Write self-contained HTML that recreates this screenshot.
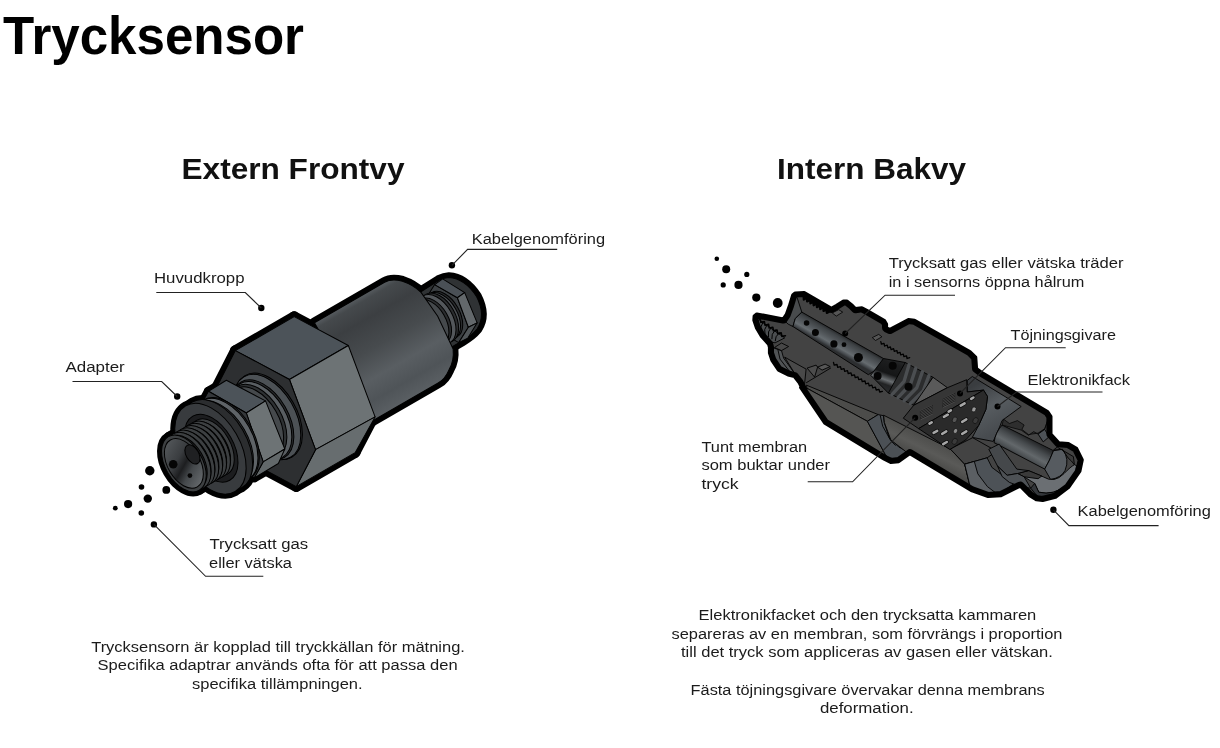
<!DOCTYPE html>
<html lang="sv">
<head>
<meta charset="utf-8">
<title>Trycksensor</title>
<style>
html,body{margin:0;padding:0;background:#fff;}
body{width:1220px;height:748px;position:relative;overflow:hidden;font-family:"Liberation Sans",sans-serif;color:#111;}
svg{position:absolute;left:0;top:0;font-family:"Liberation Sans",sans-serif;}
.lb text{font-size:15.4px;fill:#1b1b1b;}
.h1{font-size:54px;font-weight:bold;fill:#000;}
.h2{font-size:30px;font-weight:bold;fill:#111;}
</style>
</head>
<body>
<svg width="1220" height="748" viewBox="0 0 1220 748">
<defs>
<linearGradient id="cylg" gradientUnits="userSpaceOnUse" x1="0" y1="-56" x2="0" y2="58">
<stop offset="0" stop-color="#565b5f"/><stop offset="0.05" stop-color="#45494c"/><stop offset="0.2" stop-color="#3c3f42"/><stop offset="0.45" stop-color="#474b4e"/><stop offset="0.68" stop-color="#595e62"/><stop offset="0.85" stop-color="#4f5458"/><stop offset="1" stop-color="#5a5f63"/>
</linearGradient>
<linearGradient id="boreg" gradientUnits="userSpaceOnUse" x1="-20" y1="-25" x2="10" y2="25">
<stop offset="0" stop-color="#5b5f62"/><stop offset="0.4" stop-color="#3a3d40"/><stop offset="0.55" stop-color="#1d1e20"/><stop offset="0.7" stop-color="#44484b"/><stop offset="1" stop-color="#6a6e71"/>
</linearGradient>
</defs>
<!--S1-->
<g transform="translate(185.7,461.8) rotate(-30)">
<g fill="#000" stroke="#000" stroke-width="10.6" stroke-linejoin="round">
<path d="M285,-29.5 L310,-30.5 Q316,-30 320,-28 Q333.5,-19 334.5,2.5 Q333.5,23 319,30.5 Q311,33.5 300,33.5 L285,33.5Z"/>
<path d="M181,-56 L262,-56 Q270,-56 278,-48 Q286,-39 288.5,-29 L291,0 L288,36 Q283,47 274,52 Q266,58 258,58 L181,58Z"/>
<polygon points="98.6,-71.5 131.0,-19.4 118.5,54.4 83.3,76.8 50.9,24.7 63.9,-48.9"/><polygon points="166.6,-71.5 199.0,-19.4 186.5,54.4 151.3,76.8 118.9,24.7 131.9,-48.9"/><polygon points="98.6,-71.5 166.6,-71.5 151.3,76.8 83.3,76.8"/>
<g stroke-width="9"><polygon points="55.0,-49.7 76.9,-12.0 67.1,38.8 51.4,48.2 29.6,10.6 39.4,-40.3"/><polygon points="78.0,-49.7 99.9,-12.0 90.1,38.8 74.4,48.2 52.6,10.6 62.4,-40.3"/><polygon points="55,-49.7 78,-49.7 74.4,48.2 51.4,48.2"/>
<ellipse cx="28" cy="1" rx="29.7" ry="49.5" fill="#000" /><ellipse cx="35.5" cy="1" rx="29.7" ry="49.5" fill="#000" />
<ellipse cx="-2.4" cy="0.5" rx="18.6" ry="31" fill="#000" /><rect x="-2" y="-30.5" width="32" height="62"/></g>
</g>
<g stroke="#000" stroke-width="1" stroke-linejoin="round">
<path d="M285,-29.5 L310,-30.5 Q316,-30 320,-28 Q333.5,-19 334.5,2.5 Q333.5,23 319,30.5 Q311,33.5 300,33.5 L285,33.5Z" fill="#2f3234"/>
<polygon points="304.2,-29 317.3,-6.2 312.1,24.8 296.1,33.3 283,10.5 288.2,-20.5" fill="#3b3f42"/>
<polygon points="304.2,-29 314,-30 326.2,-7 317.3,-6.2" fill="#4a5056"/>
<polygon points="317.3,-6.2 326.2,-7 321.9,25.4 312.1,24.8" fill="#63686b"/>
<polygon points="312.1,24.8 321.9,25.4 306,34 296.1,33.3" fill="#505558"/>
<ellipse cx="297.5" cy="2" rx="15.3" ry="25.5" fill="#2a2c2e" />
<ellipse cx="295" cy="2" rx="15.3" ry="25.5" fill="#4a4e52" />
<ellipse cx="291.5" cy="2" rx="16.2" ry="27" fill="#2b2d2f" />
<ellipse cx="288.5" cy="2" rx="16.2" ry="27" fill="#53575b" />
<ellipse cx="285" cy="2" rx="15.0" ry="25" fill="#2b2d2f" />
<ellipse cx="282" cy="2" rx="15.0" ry="25" fill="#45494c" />
</g>
<path d="M181,-56 L262,-56 Q270,-56 278,-48 Q286,-39 288.5,-29 L291,0 L288,36 Q283,47 274,52 Q266,58 258,58 L181,58Z" fill="url(#cylg)" stroke="#000" stroke-width="1"/>
<g stroke="#000" stroke-width="1" stroke-linejoin="round">
<polygon points="98.6,-71.5 166.6,-71.5 199,-19.4 131,-19.4" fill="#4c5359"/>
<polygon points="131,-19.4 199,-19.4 186.5,55.8 118.5,54.4" fill="#6d7375"/>
<polygon points="118.5,54.4 186.5,55.8 151.3,76.8 83.3,76.8" fill="#676d6f"/>
<polygon points="98.6,-71.5 131.0,-19.4 118.5,54.4 83.3,76.8 50.9,24.7 63.9,-48.9" fill="#2d2f31"/>
</g>
<g stroke="#000" stroke-width="1">
<ellipse cx="94.5" cy="2" rx="28.2" ry="47" fill="#27292b" />
<ellipse cx="93" cy="2" rx="27.9" ry="46.5" fill="#4c5155" />
<ellipse cx="87.5" cy="2" rx="26.1" ry="43.5" fill="#292b2d" />
<ellipse cx="86" cy="2" rx="25.5" ry="42.5" fill="#595e62" />
<ellipse cx="82.5" cy="1" rx="24.3" ry="40.5" fill="#2e3133" />
<ellipse cx="80" cy="1" rx="23.4" ry="39" fill="#45494c" />
</g>
<g stroke="#000" stroke-width="1" stroke-linejoin="round">
<polygon points="55,-49.7 76,-50.3 99.6,-12.8 76.9,-12" fill="#4c5359"/>
<polygon points="76.9,-12 99.6,-12.8 92.2,38.5 67.1,38.8" fill="#6d7375"/>
<polygon points="67.1,38.8 92.2,38.5 79.4,47.8 51.4,48.2" fill="#62686a"/>
<polygon points="55.0,-49.7 76.9,-12.0 67.1,38.8 51.4,48.2 29.6,10.6 39.4,-40.3" fill="#34373a"/>
</g>
<g stroke="#000" stroke-width="1">
<ellipse cx="46.5" cy="1" rx="27.3" ry="45.5" fill="#2b2d2f" />
<ellipse cx="45" cy="1" rx="27.3" ry="45.5" fill="#5e6367" />
<ellipse cx="39" cy="1" rx="27.9" ry="46.5" fill="#2b2d2f" />
<ellipse cx="35.5" cy="1" rx="29.7" ry="49.5" fill="#2b2d2f" />
<ellipse cx="28" cy="1" rx="29.7" ry="49.5" fill="#383b3e" />
<ellipse cx="29" cy="1" rx="22.2" ry="37" fill="#1c1d1f" />
</g>
<g stroke="#000" stroke-width="1">
<path d="M-2,-30.5 L30,-30.5 L30,31.5 L-2,31.5Z" fill="#2a2c2e" stroke="none"/>
<ellipse cx="30" cy="0.5" rx="18.6" ry="31" fill="#3c3f41" />
<ellipse cx="27.4" cy="0.5" rx="17.4" ry="29" fill="#1f2022" />
<ellipse cx="25.5" cy="0.5" rx="18.6" ry="31" fill="#3c3f41" />
<ellipse cx="22.9" cy="0.5" rx="17.4" ry="29" fill="#1f2022" />
<ellipse cx="21" cy="0.5" rx="18.6" ry="31" fill="#3c3f41" />
<ellipse cx="18.4" cy="0.5" rx="17.4" ry="29" fill="#1f2022" />
<ellipse cx="16.5" cy="0.5" rx="18.6" ry="31" fill="#3c3f41" />
<ellipse cx="13.9" cy="0.5" rx="17.4" ry="29" fill="#1f2022" />
<ellipse cx="12" cy="0.5" rx="18.6" ry="31" fill="#3c3f41" />
<ellipse cx="9.4" cy="0.5" rx="17.4" ry="29" fill="#1f2022" />
<ellipse cx="7.5" cy="0.5" rx="18.6" ry="31" fill="#3c3f41" />
<ellipse cx="4.9" cy="0.5" rx="17.4" ry="29" fill="#1f2022" />
<ellipse cx="3" cy="0.5" rx="18.6" ry="31" fill="#3c3f41" />
<ellipse cx="0.3999999999999999" cy="0.5" rx="17.4" ry="29" fill="#1f2022" />
<ellipse cx="-2.4" cy="0.5" rx="18.6" ry="31" fill="#3d4042" />
<ellipse cx="-2.4" cy="0.5" rx="16.2" ry="27" fill="url(#boreg)" />
<ellipse cx="9.5" cy="-3" rx="6.3" ry="10.5" fill="#1f2022" />
</g>
</g>
<circle cx="173.2" cy="464.2" r="4.3" fill="#050505"/><circle cx="189.9" cy="475.6" r="2.4" fill="#050505"/>
<!--/S1-->
<!--S2-->
<defs><linearGradient id="bore2" gradientUnits="userSpaceOnUse" x1="801.8" y1="312.1" x2="793.3" y2="326.8">
<stop offset="0" stop-color="#2a2c2e"/><stop offset="0.15" stop-color="#3e4245"/><stop offset="0.5" stop-color="#555a5e"/><stop offset="0.72" stop-color="#666c70"/><stop offset="0.9" stop-color="#42464a"/><stop offset="1" stop-color="#2c2e30"/>
</linearGradient>
<linearGradient id="cone2" gradientUnits="userSpaceOnUse" x1="895" y1="350" x2="880" y2="392">
<stop offset="0" stop-color="#3a3c3e"/><stop offset="0.3" stop-color="#1c1d1e"/><stop offset="0.55" stop-color="#151617"/><stop offset="0.7" stop-color="#6a6e71"/><stop offset="0.8" stop-color="#222324"/><stop offset="1" stop-color="#2c2e30"/>
</linearGradient>
<linearGradient id="comp2" gradientUnits="userSpaceOnUse" x1="975" y1="385" x2="1000" y2="430">
<stop offset="0" stop-color="#3a3d40"/><stop offset="0.5" stop-color="#575c60"/><stop offset="1" stop-color="#474b4f"/>
</linearGradient>
<linearGradient id="gbore" gradientUnits="userSpaceOnUse" x1="1030" y1="440" x2="1020" y2="458">
<stop offset="0" stop-color="#2a2c2e"/><stop offset="0.25" stop-color="#45494c"/><stop offset="0.6" stop-color="#63686b"/><stop offset="0.85" stop-color="#4a4e51"/><stop offset="1" stop-color="#2c2e30"/>
</linearGradient>
<linearGradient id="body2" gradientUnits="userSpaceOnUse" x1="940" y1="440" x2="925" y2="470">
<stop offset="0" stop-color="#4a4a48"/><stop offset="0.45" stop-color="#5a5a58"/><stop offset="0.8" stop-color="#484846"/><stop offset="1" stop-color="#3a3a3a"/>
</linearGradient>
<clipPath id="sil2"><path d="M792.9,295.2 L795.3,293.2 L804.2,292.8 L831.4,308.6 L836.3,305.7 L843.5,301.2 L846.7,301.2 L852.3,305.7 L855.5,308.9 L861.9,308.1 L866.7,310.5 L884.4,320.9 L886.3,324.1 L886.3,328.1 L890.0,329.7 L908.5,319.8 L914.5,320.5 L969.8,351.8 L975.5,357.4 L976.3,368.6 L982.7,373.4 L1047.5,411.7 L1050.7,416.5 L1050.7,434.2 L1058.7,443.0 L1068.3,443.8 L1076.4,448.6 L1082.0,459.8 L1079.6,471.3 L1068.3,487.4 L1055.5,497.0 L1042.7,500.2 L1036.3,499.4 L1029.8,495.4 L1020.2,485.8 L1017.0,487.4 L1001.0,495.4 L988.1,496.2 L972.1,490.6 L909.9,453.4 L898.7,461.4 L890.7,462.2 L884.3,459.0 L824.9,422.9 L800.9,387.6 L803.4,390.7 L799.4,382.7 L794.5,376.3 L788.1,374.7 L778.5,369.8 L772.1,360.2 L769.7,353.0 L769.7,347.4 L768.9,344.2 L761.7,336.2 L756.8,328.1 L754.1,320.1 L754.4,316.1 L756.8,314.2 L783.3,319.3 L786.5,314.5 L789.7,305.7Z"/></clipPath></defs>
<g clip-path="url(#sil2)">
<rect x="740" y="270" width="360" height="250" fill="#434343"/>
<path d="M797.0,297.3 L801.8,312.1 L795.3,318.5 L792.9,326.5 L788.1,324.1 L783.6,319.8 L787.3,313.7 L790.5,305.7 L793.7,296.0Z" fill="#484b4d" stroke="#000" stroke-width="0.9" stroke-linejoin="round"/>
<path d="M801.8,312.1 L883.6,358.6 L881.2,366.6 L868.3,374.7 L792.9,326.5 L795.3,318.5Z" fill="url(#bore2)" stroke="#000" stroke-width="0.9" stroke-linejoin="round"/>
<path d="M883.5,358.5 L905.2,362.5 L910.0,368.1 L899.6,387.4 L888.3,393.0 L870.7,375.3Z" fill="url(#cone2)" stroke="#000" stroke-width="0.9" stroke-linejoin="round"/>
<path d="M905.2,362.5 L933.0,377.3 L913.7,405.3 L888.4,393.0Z" fill="#2b2c2d" stroke="#000" stroke-width="0.9" stroke-linejoin="round"/>
<path d="M909.1,364.6 L904.1,381.3 L891.9,394.7" fill="none" stroke="#4b4e51" stroke-width="3.4" stroke-linejoin="round" stroke-linecap="round"/>
<path d="M915.8,368.1 L910.4,384.5 L898.0,397.7" fill="none" stroke="#4b4e51" stroke-width="3.4" stroke-linejoin="round" stroke-linecap="round"/>
<path d="M922.4,371.7 L916.8,387.8 L904.1,400.7" fill="none" stroke="#4b4e51" stroke-width="3.4" stroke-linejoin="round" stroke-linecap="round"/>
<path d="M929.1,375.2 L923.2,391.0 L910.2,403.6" fill="none" stroke="#4b4e51" stroke-width="3.4" stroke-linejoin="round" stroke-linecap="round"/>
<path d="M933.0,377.3 L947.4,387.7 L913.7,405.3Z" fill="#5a5a5a" stroke="#000" stroke-width="0.9" stroke-linejoin="round"/>
<path d="M806.5,385.2 L878.2,414.6 L867.4,421.3 L807.0,388.3Z" fill="#4c4c4a" stroke="#000" stroke-width="0.9" stroke-linejoin="round"/>
<path d="M807.0,388.3 L867.4,421.3 L885.1,454.2 L882.7,459.8 L824.9,423.7 L800.9,388.4Z" fill="#555553" stroke="#000" stroke-width="0.9" stroke-linejoin="round"/>
<path d="M867.4,421.3 L878.2,414.6 L883.5,415.7 L884.3,422.9 L889.1,437.4 L898.7,447.0 L909.9,452.6 L899.5,460.6 L890.7,461.4 L885.1,454.2Z" fill="#4b5055" stroke="#000" stroke-width="0.9" stroke-linejoin="round"/>
<path d="M880.3,415.7 L882.7,426.2 L890.7,440.6 L895.5,445.4" fill="none" stroke="#000" stroke-width="0.9" stroke-linejoin="round" stroke-linecap="round"/>
<path d="M883.6,415.2 L950.2,448.9 L964.7,464.2 L970.3,487.4 L964.7,488.2 L908.5,453.7 L890.9,440.1 L884.4,422.5Z" fill="url(#body2)" stroke="#000" stroke-width="0.9" stroke-linejoin="round"/>
<path d="M950.2,448.9 L972.7,437.7 L996.7,451.3 L987.1,457.8 L964.7,464.2Z" fill="#434343" stroke="#000" stroke-width="0.9" stroke-linejoin="round"/>
<path d="M964.7,464.2 L987.1,457.8 L991.9,467.4 L1004.8,477.0 L1015.2,477.0 L1017.6,481.0 L998.3,494.7 L982.3,496.3 L970.3,487.4Z" fill="#4d5257" stroke="#000" stroke-width="0.9" stroke-linejoin="round"/>
<path d="M964.7,464.2 L974.3,461.4 L977.8,473.8 L987.4,486.6 L997.1,493.9 L982.3,496.3 L970.3,487.4Z" fill="#5b5f63" stroke="#000" stroke-width="0.9" stroke-linejoin="round"/>
<path d="M967.2,380.5 L972.3,376.5 L1021.2,406.5 L1002.0,420.6 L999.6,427.0 L993.2,441.4 L972.3,437.4 L978.7,425.4 L985.9,409.4 L987.5,396.5 L983.5,390.1 L967.2,392.0Z" fill="url(#comp2)" stroke="#000" stroke-width="0.9" stroke-linejoin="round"/>
<path d="M913.7,405.3 L947.4,387.7 L966.7,379.7 L967.2,392.0 L983.5,390.1 L918.6,428.6 L903.3,418.2Z" fill="#363636" stroke="#000" stroke-width="0.9" stroke-linejoin="round"/>
<path d="M920.2,410.6 L932.2,405.0 L932.7,414.2 L920.6,419.9Z" fill="#555" stroke="none"/>
<path d="M920.3,411.3 L932.4,405.7" fill="none" stroke="#111" stroke-width="0.8" stroke-linejoin="round" stroke-linecap="round"/>
<path d="M920.3,412.8 L932.4,407.2" fill="none" stroke="#111" stroke-width="0.8" stroke-linejoin="round" stroke-linecap="round"/>
<path d="M920.3,414.3 L932.4,408.7" fill="none" stroke="#111" stroke-width="0.8" stroke-linejoin="round" stroke-linecap="round"/>
<path d="M920.3,415.9 L932.4,410.2" fill="none" stroke="#111" stroke-width="0.8" stroke-linejoin="round" stroke-linecap="round"/>
<path d="M920.3,417.4 L932.4,411.8" fill="none" stroke="#111" stroke-width="0.8" stroke-linejoin="round" stroke-linecap="round"/>
<path d="M920.3,418.9 L932.4,413.3" fill="none" stroke="#111" stroke-width="0.8" stroke-linejoin="round" stroke-linecap="round"/>
<path d="M942.6,398.4 L954.7,392.8 L955.1,402.0 L943.1,407.8Z" fill="#555" stroke="none"/>
<path d="M942.8,399.1 L954.8,393.5" fill="none" stroke="#111" stroke-width="0.8" stroke-linejoin="round" stroke-linecap="round"/>
<path d="M942.8,400.6 L954.8,395.0" fill="none" stroke="#111" stroke-width="0.8" stroke-linejoin="round" stroke-linecap="round"/>
<path d="M942.8,402.1 L954.8,396.5" fill="none" stroke="#111" stroke-width="0.8" stroke-linejoin="round" stroke-linecap="round"/>
<path d="M942.8,403.7 L954.8,398.0" fill="none" stroke="#111" stroke-width="0.8" stroke-linejoin="round" stroke-linecap="round"/>
<path d="M942.8,405.2 L954.8,399.6" fill="none" stroke="#111" stroke-width="0.8" stroke-linejoin="round" stroke-linecap="round"/>
<path d="M942.8,406.7 L954.8,401.1" fill="none" stroke="#111" stroke-width="0.8" stroke-linejoin="round" stroke-linecap="round"/>
<path d="M918.6,428.6 L983.5,390.1 L987.5,396.5 L985.9,409.4 L978.7,425.4 L965.9,439.8 L949.8,449.5Z" fill="#2a2a2a" stroke="#000" stroke-width="0.9" stroke-linejoin="round"/>
<line x1="943.9" y1="416.9" x2="947.8" y2="414.6" stroke="#0c0c0c" stroke-width="4" stroke-linecap="round"/>
<line x1="943.9" y1="416.9" x2="947.8" y2="414.6" stroke="#a6a6a6" stroke-width="2.6" stroke-linecap="round"/>
<line x1="960.7" y1="405.7" x2="964.6" y2="403.4" stroke="#0c0c0c" stroke-width="4" stroke-linecap="round"/>
<line x1="960.7" y1="405.7" x2="964.6" y2="403.4" stroke="#a6a6a6" stroke-width="2.6" stroke-linecap="round"/>
<line x1="962.2" y1="421.8" x2="966.3" y2="419.4" stroke="#0c0c0c" stroke-width="4" stroke-linecap="round"/>
<line x1="962.2" y1="421.8" x2="966.3" y2="419.4" stroke="#a6a6a6" stroke-width="2.6" stroke-linecap="round"/>
<line x1="942.2" y1="433.8" x2="946.3" y2="431.4" stroke="#0c0c0c" stroke-width="4" stroke-linecap="round"/>
<line x1="942.2" y1="433.8" x2="946.3" y2="431.4" stroke="#a6a6a6" stroke-width="2.6" stroke-linecap="round"/>
<line x1="962.2" y1="433.8" x2="966.3" y2="431.4" stroke="#0c0c0c" stroke-width="4" stroke-linecap="round"/>
<line x1="962.2" y1="433.8" x2="966.3" y2="431.4" stroke="#a6a6a6" stroke-width="2.6" stroke-linecap="round"/>
<line x1="933.6" y1="432.9" x2="937.2" y2="430.8" stroke="#0c0c0c" stroke-width="4" stroke-linecap="round"/>
<line x1="933.6" y1="432.9" x2="937.2" y2="430.8" stroke="#a6a6a6" stroke-width="2.6" stroke-linecap="round"/>
<line x1="943.2" y1="444.1" x2="946.8" y2="442.0" stroke="#0c0c0c" stroke-width="4" stroke-linecap="round"/>
<line x1="943.2" y1="444.1" x2="946.8" y2="442.0" stroke="#a6a6a6" stroke-width="2.6" stroke-linecap="round"/>
<line x1="929.5" y1="423.6" x2="931.7" y2="422.3" stroke="#0c0c0c" stroke-width="4" stroke-linecap="round"/>
<line x1="929.5" y1="423.6" x2="931.7" y2="422.3" stroke="#a6a6a6" stroke-width="2.6" stroke-linecap="round"/>
<line x1="971.2" y1="398.8" x2="973.4" y2="397.5" stroke="#0c0c0c" stroke-width="4" stroke-linecap="round"/>
<line x1="971.2" y1="398.8" x2="973.4" y2="397.5" stroke="#a6a6a6" stroke-width="2.6" stroke-linecap="round"/>
<line x1="948.7" y1="411.6" x2="950.9" y2="410.3" stroke="#0c0c0c" stroke-width="4" stroke-linecap="round"/>
<line x1="948.7" y1="411.6" x2="950.9" y2="410.3" stroke="#a6a6a6" stroke-width="2.6" stroke-linecap="round"/>
<ellipse cx="973.9" cy="409.4" rx="2.0" ry="2.6" fill="#9a9a9a" stroke="#111" stroke-width="0.6" transform="rotate(30 973.9 409.4)"/>
<ellipse cx="955.5" cy="431.0" rx="2.0" ry="2.6" fill="#8c8c8c" stroke="#111" stroke-width="0.6" transform="rotate(30 955.5 431.0)"/>
<ellipse cx="954.7" cy="419.8" rx="2.2" ry="3" fill="#555" stroke="#111" stroke-width="0.6" transform="rotate(30 954.7 419.8)"/>
<ellipse cx="975.5" cy="420.6" rx="2.4" ry="3.2" fill="#3a3a3a" stroke="#111" stroke-width="0.6" transform="rotate(30 975.5 420.6)"/>
<ellipse cx="954.7" cy="441.4" rx="2.4" ry="3.2" fill="#3a3a3a" stroke="#111" stroke-width="0.6" transform="rotate(30 954.7 441.4)"/>
<path d="M1002.1,425.0 L1053.5,450.7 Q1049.9,460.3 1044.7,469.1 L994.0,442.6 Q995.4,432.4 1002.1,425.0Z" fill="url(#gbore)" stroke="#000" stroke-width="0.9" stroke-linejoin="round"/>
<path d="M1053.5,450.7 L1062.4,449.3 Q1070.0,458.8 1065.0,470.6 Q1060.9,477.9 1050.6,479.4 L1044.7,469.1 Q1049.9,460.3 1053.5,450.7Z" fill="#565b60" stroke="#000" stroke-width="0.9" stroke-linejoin="round"/>
<path d="M1053.5,450.0 L1057.2,447.1 L1073.4,456.6 L1074.4,464.7 Q1071.5,460.6 1068.2,458.1 L1062.4,449.3Z" fill="#3a3a3a" stroke="#000" stroke-width="0.9" stroke-linejoin="round"/>
<path d="M1017.5,473.5 L1028.5,470.6 L1043.2,476.8 Q1054.3,483.8 1064.1,473.5 Q1070.9,466.5 1074.4,464.7 L1076.6,465.7 Q1075.9,476.5 1067.1,484.9 Q1053.5,495.9 1038.8,492.2 L1034.7,483.4 L1024.1,476.8Z" fill="#6b6f73" stroke="#000" stroke-width="0.9" stroke-linejoin="round"/>
<path d="M1034.7,483.4 L1038.8,492.2 Q1053.5,495.9 1067.1,484.9 Q1075.9,476.5 1076.6,465.7 L1078.2,469.1 Q1075.6,482.4 1065.3,489.7 Q1050.6,498.5 1037.4,496.3 L1030.7,488.2Z" fill="#33363a" stroke="#000" stroke-width="0.9" stroke-linejoin="round"/>
<path d="M1017.5,473.5 L1028.5,470.6 L1041.8,476.0 L1038.1,478.7 L1024.1,476.8Z" fill="#3a3a3a" stroke="#000" stroke-width="0.9" stroke-linejoin="round"/>
<path d="M988.8,449.3 L999.1,444.1 L1007.9,456.6 L1016.8,469.1 L1028.5,470.6 L1017.5,473.5 L1007.2,475.3 L997.6,466.2Z" fill="#45484b" stroke="#000" stroke-width="0.9" stroke-linejoin="round"/>
<path d="M997.6,466.2 L1007.2,475.3 L1017.5,473.5 L1024.1,476.8 L1030.7,488.2 L1021.2,486.8 L1009.4,482.4 L1002.1,476.5Z" fill="#4d5155" stroke="#000" stroke-width="0.9" stroke-linejoin="round"/>
<path d="M1003.5,419.1 L1009.4,423.5 L1017.5,420.6 L1024.1,425.0 L1021.9,429.4 L1028.5,434.6 L1038.1,433.1 L1044.7,428.7 L1047.6,420.6 L1044.7,429.4 L1038.1,434.1 L1033.7,431.6 L1028.5,435.3 L1021.2,430.1 L1002.1,425.0Z" fill="#2e2e2e" stroke="#000" stroke-width="0.7" stroke-linejoin="round"/>
<path d="M1038.1,434.1 L1044.7,429.4 L1049.1,436.8 L1043.2,441.9Z" fill="#4d5257" stroke="#000" stroke-width="0.9" stroke-linejoin="round"/>
<path d="M757.0,316.5 L760.6,321.1 L784.7,337.9 L775.1,342.8 L769.1,341.6 L759.4,333.1 L755.2,324.7 L754.6,317.5Z" fill="#4a4d4f" stroke="#000" stroke-width="0.9" stroke-linejoin="round"/>
<path d="M759.2,319.3 L757.0,324.7 L758.2,330.7" fill="none" stroke="#000" stroke-width="1.0" stroke-linejoin="round" stroke-linecap="round"/>
<path d="M763.2,322.0 L760.8,327.1 L761.6,332.7" fill="none" stroke="#000" stroke-width="1.0" stroke-linejoin="round" stroke-linecap="round"/>
<path d="M767.2,324.7 L764.7,329.5 L765.1,334.7" fill="none" stroke="#000" stroke-width="1.0" stroke-linejoin="round" stroke-linecap="round"/>
<path d="M771.2,327.4 L768.5,331.9 L768.5,336.7" fill="none" stroke="#000" stroke-width="1.0" stroke-linejoin="round" stroke-linecap="round"/>
<path d="M775.2,330.1 L772.3,334.3 L771.9,338.8" fill="none" stroke="#000" stroke-width="1.0" stroke-linejoin="round" stroke-linecap="round"/>
<path d="M779.3,332.8 L776.1,336.7 L775.3,340.8" fill="none" stroke="#000" stroke-width="1.0" stroke-linejoin="round" stroke-linecap="round"/>
<path d="M774.0,348.1 L781.5,350.6 L783.6,358.1 L795.1,374.1 L793.1,377.1 L780.0,369.1 L772.0,358.1 L770.0,347.0Z" fill="#505355" stroke="#000" stroke-width="0.9" stroke-linejoin="round"/>
<path d="M778.0,350.1 L780.0,359.1 L790.1,372.1" fill="none" stroke="#000" stroke-width="0.9" stroke-linejoin="round" stroke-linecap="round"/>
<path d="M774.5,347.5 L781.5,343.0 L788.6,346.5 L781.5,350.6Z" fill="#474747" stroke="#000" stroke-width="0.9" stroke-linejoin="round"/>
<path d="M784.6,357.1 L806.1,369.1 L804.6,383.6 L795.1,374.1Z" fill="#494949" stroke="#000" stroke-width="0.9" stroke-linejoin="round"/>
<path d="M807.1,368.1 L816.1,365.1 L817.6,367.1 L814.6,377.1Z" fill="#4c4c4c" stroke="#000" stroke-width="0.9" stroke-linejoin="round"/>
<path d="M817.6,367.1 L825.1,364.1 L830.2,366.6 L822.1,370.1Z" fill="#565656" stroke="#000" stroke-width="0.9" stroke-linejoin="round"/>
<path d="M806.5,382.6 L830.6,368.1" fill="none" stroke="#000" stroke-width="0.9" stroke-linejoin="round" stroke-linecap="round"/>
<path d="M880.8,341.6 L881.4,344.2 L884.0,343.4 L884.6,346.0 L887.2,345.2 L887.9,347.8 L890.4,346.9 L891.1,349.6 L893.6,348.7 L894.3,351.4 L896.9,350.5 L897.5,353.1 L900.1,352.3 L900.7,354.9 L903.3,354.1 L903.9,356.7 L906.5,355.8 L907.1,358.5 L909.7,357.6" fill="none" stroke="#000" stroke-width="1.3" stroke-linejoin="round" stroke-linecap="round"/>
<path d="M833.5,362.5 L834.2,365.2 L837.0,364.5 L837.7,367.3 L840.5,366.6 L841.2,369.3 L844.0,368.6 L844.7,371.4 L847.5,370.7 L848.2,373.5 L851.0,372.8 L851.7,375.5 L854.5,374.8 L855.2,377.6 L858.0,376.9 L858.7,379.6 L861.5,379.0 L862.2,381.7 L865.0,381.0 L865.7,383.8 L868.5,383.1 L869.2,385.8 L871.9,385.1 L872.7,387.9 L875.4,387.2 L876.2,390.0 L878.9,389.3 L879.7,392.0 L882.4,391.3" fill="none" stroke="#000" stroke-width="1.3" stroke-linejoin="round" stroke-linecap="round"/>
<path d="M760.2,318.8 L760.8,322.4 L764.4,321.6 L765.0,325.2 L768.6,324.4 L769.2,328.0 L772.8,327.2 L773.5,330.8 L777.0,330.0 L777.7,333.6 L781.2,332.9 L781.9,336.4 L785.4,335.7" fill="none" stroke="#000" stroke-width="1.6" stroke-linejoin="round" stroke-linecap="round"/>
<path d="M832.2,312.9 L838.7,309.7 L842.7,312.1 L836.3,316.1Z" fill="#555" stroke="#000" stroke-width="0.8"/>
<path d="M872.3,337.6 L878.7,334.4 L881.9,336.8 L875.5,340.5Z" fill="#555" stroke="#000" stroke-width="0.8"/>
<path d="M976.3,360.6 L982.7,365.4 L982.7,370.2 L976.3,367.0Z" fill="#2a2a2a" stroke="#000" stroke-width="0.8"/>
<path d="M792.9,295.2 L795.3,293.2 L804.2,292.8 L831.4,308.6 L836.3,305.7 L843.5,301.2 L846.7,301.2 L852.3,305.7 L855.5,308.9 L861.9,308.1 L866.7,310.5 L884.4,320.9 L886.3,324.1 L886.3,328.1 L890.0,329.7 L908.5,319.8 L914.5,320.5 L969.8,351.8 L975.5,357.4 L976.3,368.6 L982.7,373.4 L1047.5,411.7 L1050.7,416.5 L1050.7,434.2 L1058.7,443.0 L1068.3,443.8 L1076.4,448.6 L1082.0,459.8 L1079.6,471.3 L1068.3,487.4 L1055.5,497.0 L1042.7,500.2 L1036.3,499.4 L1029.8,495.4 L1020.2,485.8 L1017.0,487.4 L1001.0,495.4 L988.1,496.2 L972.1,490.6 L909.9,453.4 L898.7,461.4 L890.7,462.2 L884.3,459.0 L824.9,422.9 L800.9,387.6 L803.4,390.7 L799.4,382.7 L794.5,376.3 L788.1,374.7 L778.5,369.8 L772.1,360.2 L769.7,353.0 L769.7,347.4 L768.9,344.2 L761.7,336.2 L756.8,328.1 L754.1,320.1 L754.4,316.1 L756.8,314.2 L783.3,319.3 L786.5,314.5 L789.7,305.7Z" fill="none" stroke="#000" stroke-width="8.6" stroke-linejoin="round"/>
<path d="M803.6,296.0 L803.8,299.6 L806.9,297.9 L807.1,301.5 L810.2,299.8 L810.4,303.4 L813.5,301.7 L813.6,305.3 L816.8,303.6 L816.9,307.2 L820.1,305.6 L820.2,309.1 L823.4,307.5 L823.5,311.0 L826.7,309.4 L826.8,312.9 L830.0,311.3" fill="none" stroke="#000" stroke-width="2.2" stroke-linejoin="round" stroke-linecap="round"/>
</g>
<path d="M792.9,295.2 L795.3,293.2 L804.2,292.8 L831.4,308.6 L836.3,305.7 L843.5,301.2 L846.7,301.2 L852.3,305.7 L855.5,308.9 L861.9,308.1 L866.7,310.5 L884.4,320.9 L886.3,324.1 L886.3,328.1 L890.0,329.7 L908.5,319.8 L914.5,320.5 L969.8,351.8 L975.5,357.4 L976.3,368.6 L982.7,373.4 L1047.5,411.7 L1050.7,416.5 L1050.7,434.2 L1058.7,443.0 L1068.3,443.8 L1076.4,448.6 L1082.0,459.8 L1079.6,471.3 L1068.3,487.4 L1055.5,497.0 L1042.7,500.2 L1036.3,499.4 L1029.8,495.4 L1020.2,485.8 L1017.0,487.4 L1001.0,495.4 L988.1,496.2 L972.1,490.6 L909.9,453.4 L898.7,461.4 L890.7,462.2 L884.3,459.0 L824.9,422.9 L800.9,387.6 L803.4,390.7 L799.4,382.7 L794.5,376.3 L788.1,374.7 L778.5,369.8 L772.1,360.2 L769.7,353.0 L769.7,347.4 L768.9,344.2 L761.7,336.2 L756.8,328.1 L754.1,320.1 L754.4,316.1 L756.8,314.2 L783.3,319.3 L786.5,314.5 L789.7,305.7Z" fill="none" stroke="#000" stroke-width="3.6" stroke-linejoin="round"/>
<g fill="#050505">
<circle cx="806.6" cy="323.0" r="2.8"/>
<circle cx="815.4" cy="332.6" r="3.5"/>
<circle cx="833.9" cy="343.9" r="3.6"/>
<circle cx="844.0" cy="344.7" r="2.4"/>
<circle cx="858.4" cy="357.5" r="4.5"/>
<circle cx="892.7" cy="365.8" r="4"/>
<circle cx="877.6" cy="375.9" r="4"/>
<circle cx="908.5" cy="386.7" r="4"/>
</g>
<!--/S2-->
<g fill="#000">
<circle cx="149.8" cy="470.7" r="4.7"/>
<circle cx="141.5" cy="487" r="2.8"/>
<circle cx="166.3" cy="489.9" r="3.9"/>
<circle cx="147.8" cy="498.6" r="4.2"/>
<circle cx="128.1" cy="504.1" r="4.1"/>
<circle cx="115.3" cy="508.2" r="2.4"/>
<circle cx="141.3" cy="513" r="2.8"/>
<circle cx="153.9" cy="524.4" r="3.2"/>
<circle cx="261.3" cy="308" r="3.2"/>
<circle cx="177.2" cy="396.5" r="3.2"/>
<circle cx="451.9" cy="265.3" r="3.2"/>
<circle cx="1053.4" cy="509.8" r="3.2"/>
<circle cx="716.8" cy="258.7" r="2.3"/>
<circle cx="726.2" cy="269.2" r="4"/>
<circle cx="746.8" cy="274.4" r="2.6"/>
<circle cx="723.2" cy="284.9" r="2.6"/>
<circle cx="738.5" cy="284.9" r="4.1"/>
<circle cx="756.3" cy="297.6" r="4.1"/>
<circle cx="777.7" cy="303" r="4.9"/>
</g>
<g fill="none" stroke="#222" stroke-width="1.1">
<path d="M156.3,292.5 H245.3 L261.3,308"/>
<path d="M72.5,381.5 H161.7 L177.2,396.5"/>
<path d="M153.9,524.4 L205.6,576.3 H263.3"/>
<path d="M557.2,249.4 H467.6 L451.9,265.3"/>
<path d="M1053.4,509.8 L1068.9,525.6 H1158.6"/>
</g>
<g fill="#000">
<circle cx="845.2" cy="333.5" r="3"/>
<circle cx="960" cy="393.4" r="3"/>
<circle cx="997.5" cy="406.5" r="3"/>
<circle cx="915.2" cy="417.7" r="3"/>
</g>
<g fill="none" stroke="#222" stroke-width="1.1">
<path d="M955,295.2 H885.1 L845.2,333.5"/>
<path d="M1065.7,347.7 H1005.5 L960,393.4"/>
<path d="M1102.5,392 H1016.4 L997.5,406.5"/>
<path d="M807.7,481.8 H852.6 L915.2,417.7"/>
</g>
</svg>
<svg width="1220" height="748" viewBox="0 0 1220 748" style="will-change:transform">
<text class="h1" x="3" y="54" textLength="301" lengthAdjust="spacingAndGlyphs">Trycksensor</text>
<text class="h2" x="181.5" y="178.5" textLength="223" lengthAdjust="spacingAndGlyphs">Extern Frontvy</text>
<text class="h2" x="777" y="178.5" textLength="189" lengthAdjust="spacingAndGlyphs">Intern Bakvy</text>
<g class="lb">
<text id="l1" x="154.0" y="283.4" textLength="90.5" lengthAdjust="spacingAndGlyphs">Huvudkropp</text>
<text id="l2" x="65.5" y="372.4" textLength="59.2" lengthAdjust="spacingAndGlyphs">Adapter</text>
<text id="l3a" x="209.4" y="549.4" textLength="98.8" lengthAdjust="spacingAndGlyphs">Trycksatt gas</text>
<text id="l3b" x="209.0" y="568.0" textLength="83.0" lengthAdjust="spacingAndGlyphs">eller vätska</text>
<text id="l4" x="471.7" y="244.0" textLength="133.4" lengthAdjust="spacingAndGlyphs">Kabelgenomföring</text>
<text id="r1a" x="888.7" y="268.0" textLength="234.9" lengthAdjust="spacingAndGlyphs">Trycksatt gas eller vätska träder</text>
<text id="r1b" x="888.7" y="287.2" textLength="195.7" lengthAdjust="spacingAndGlyphs">in i sensorns öppna hålrum</text>
<text id="r2" x="1010.6" y="339.7" textLength="105.4" lengthAdjust="spacingAndGlyphs">Töjningsgivare</text>
<text id="r3" x="1027.4" y="384.6" textLength="102.7" lengthAdjust="spacingAndGlyphs">Elektronikfack</text>
<text id="r4a" x="701.4" y="451.8" textLength="105.8" lengthAdjust="spacingAndGlyphs">Tunt membran</text>
<text id="r4b" x="701.4" y="470.3" textLength="128.7" lengthAdjust="spacingAndGlyphs">som buktar under</text>
<text id="r4c" x="701.4" y="489.1" textLength="37.2" lengthAdjust="spacingAndGlyphs">tryck</text>
<text id="r5" x="1077.6" y="516.3" textLength="133.2" lengthAdjust="spacingAndGlyphs">Kabelgenomföring</text>
<text id="p1a" x="91.2" y="651.6" textLength="373.7" lengthAdjust="spacingAndGlyphs">Trycksensorn är kopplad till tryckkällan för mätning.</text>
<text id="p1b" x="97.6" y="670.3" textLength="360.0" lengthAdjust="spacingAndGlyphs">Specifika adaptrar används ofta för att passa den</text>
<text id="p1c" x="192.0" y="688.9" textLength="170.6" lengthAdjust="spacingAndGlyphs">specifika tillämpningen.</text>
<text id="p2a" x="698.6" y="620.0" textLength="337.7" lengthAdjust="spacingAndGlyphs">Elektronikfacket och den trycksatta kammaren</text>
<text id="p2b" x="671.5" y="638.7" textLength="390.9" lengthAdjust="spacingAndGlyphs">separeras av en membran, som förvrängs i proportion</text>
<text id="p2c" x="681.0" y="657.4" textLength="371.9" lengthAdjust="spacingAndGlyphs">till det tryck som appliceras av gasen eller vätskan.</text>
<text id="p2d" x="690.6" y="694.7" textLength="354.2" lengthAdjust="spacingAndGlyphs">Fästa töjningsgivare övervakar denna membrans</text>
<text id="p2e" x="819.9" y="713.3" textLength="93.7" lengthAdjust="spacingAndGlyphs">deformation.</text>
</g>
</svg>
</body>
</html>
